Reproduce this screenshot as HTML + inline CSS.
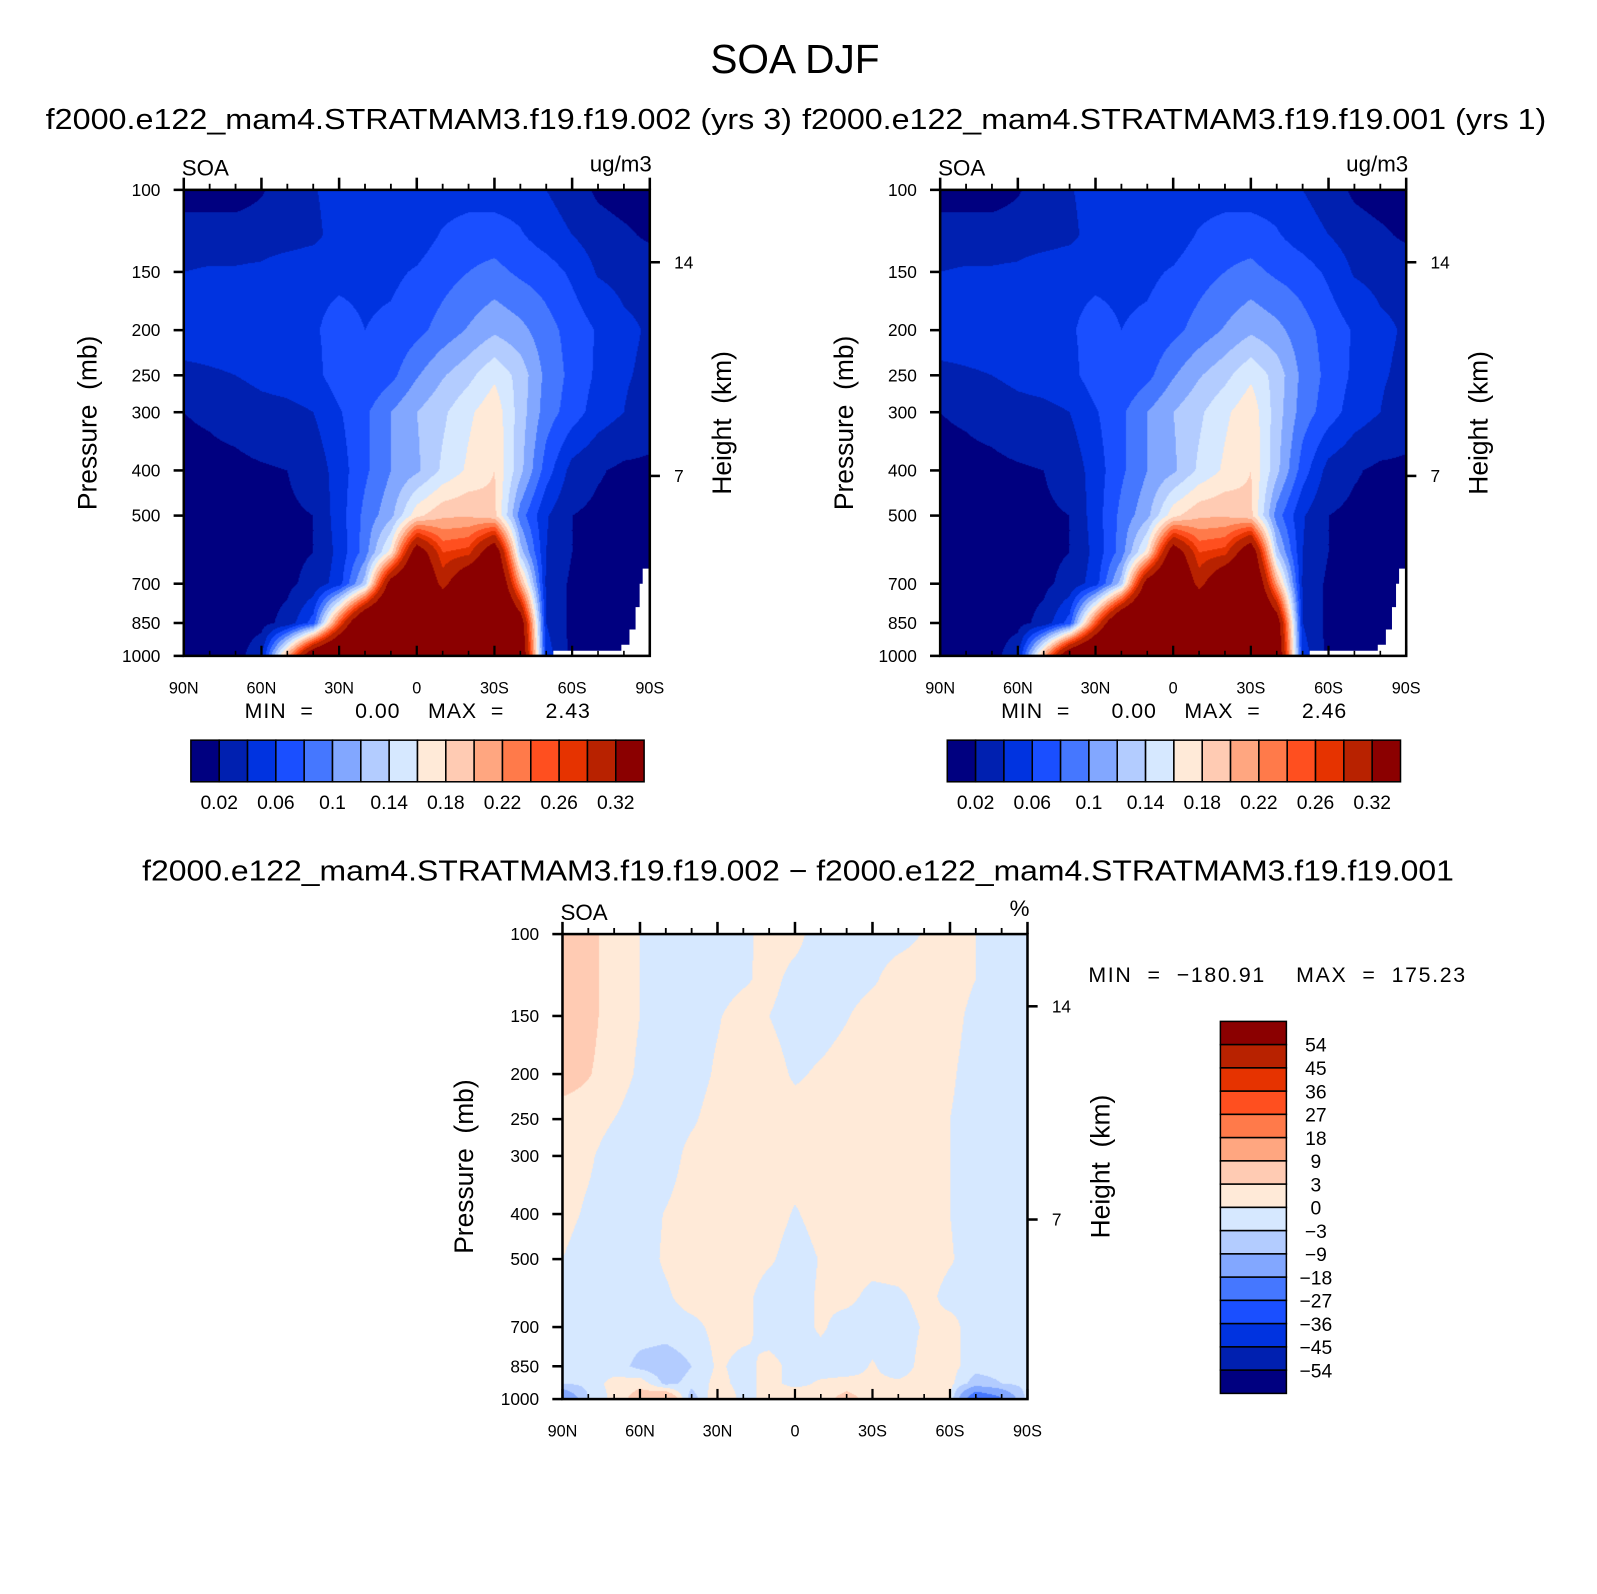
<!DOCTYPE html>
<html><head><meta charset="utf-8"><title>SOA DJF</title>
<style>
html,body{margin:0;padding:0;background:#fff;width:1597px;height:1594px;overflow:hidden}
#wrap{position:absolute;left:0;top:0;width:1573px;height:1570px;transform:scale(1.0153);transform-origin:0 0}
canvas{position:absolute}
svg{position:absolute;left:0;top:0}
text{font-family:"Liberation Sans",sans-serif;fill:#000;white-space:pre}
</style></head>
<body>
<div id="wrap">
<canvas id="c1" width="459" height="459" style="left:181px;top:187px"></canvas>
<canvas id="c2" width="459" height="459" style="left:926px;top:187px"></canvas>
<canvas id="c3" width="458" height="458" style="left:554px;top:920px"></canvas>
<svg id="s" width="1573" height="1570" viewBox="0 0 1573 1570">
<text x="783" y="72" font-size="40" text-anchor="middle">SOA DJF</text>
<text x="45" y="127" font-size="28" textLength="735" lengthAdjust="spacingAndGlyphs">f2000.e122_mam4.STRATMAM3.f19.f19.002 (yrs 3)</text>
<text x="790" y="127" font-size="28" textLength="733" lengthAdjust="spacingAndGlyphs">f2000.e122_mam4.STRATMAM3.f19.f19.001 (yrs 1)</text>
<text x="140" y="867" font-size="28" textLength="1292" lengthAdjust="spacingAndGlyphs">f2000.e122_mam4.STRATMAM3.f19.f19.002 − f2000.e122_mam4.STRATMAM3.f19.f19.001</text>
</svg>
</div>
<script>
const latCats = [90,80,70,60,50,40,30,20,10,0,-10,-20,-30,-40,-50,-60,-70,-80,-90];
const presLevels = [100,125,150,200,250,300,400,500,600,700,850,1000];
const soaCase1 = [
[0.01,0.01,0.01,0.018,0.03,0.038,0.05,0.05,0.05,0.05,0.05,0.05,0.05,0.05,0.04,0.03,0.016,0.01,0.01],
[0.03,0.03,0.03,0.03,0.03,0.034,0.05,0.05,0.05,0.05,0.062,0.07,0.07,0.062,0.05,0.04,0.03,0.024,0.016],
[0.04,0.042,0.042,0.044,0.052,0.056,0.056,0.056,0.056,0.062,0.072,0.08,0.086,0.076,0.07,0.056,0.038,0.034,0.034],
[0.056,0.056,0.056,0.056,0.056,0.058,0.066,0.06,0.064,0.074,0.088,0.102,0.116,0.106,0.088,0.072,0.058,0.044,0.038],
[0.032,0.036,0.04,0.046,0.05,0.054,0.07,0.062,0.074,0.098,0.118,0.134,0.156,0.132,0.094,0.074,0.056,0.042,0.036],
[0.02,0.022,0.026,0.032,0.034,0.04,0.058,0.076,0.1,0.12,0.136,0.156,0.174,0.13,0.09,0.07,0.05,0.04,0.03],
[0.016,0.016,0.016,0.018,0.02,0.026,0.05,0.076,0.1,0.116,0.144,0.164,0.18,0.126,0.07,0.032,0.022,0.016,0.016],
[0.014,0.014,0.014,0.016,0.018,0.02,0.05,0.086,0.114,0.174,0.196,0.198,0.186,0.09,0.042,0.02,0.016,0.014,0.014],
[0.012,0.012,0.014,0.014,0.016,0.02,0.046,0.09,0.17,0.36,0.26,0.27,0.37,0.13,0.04,0.02,0.016,0.014,0.014],
[0.012,0.012,0.012,0.014,0.016,0.026,0.05,0.13,0.35,0.42,0.30,0.39,0.42,0.21,0.036,0.016,0.014,0.012,0.012],
[0.012,0.012,0.012,0.014,0.026,0.07,0.25,0.42,0.45,0.48,0.45,0.45,0.45,0.36,0.04,0.014,0.012,0.012,0.012],
[0.012,0.012,0.012,0.034,0.21,0.39,0.45,0.48,0.48,0.48,0.48,0.48,0.48,0.39,0.05,0.014,0.012,0.012,0.012]
];
const soaCase2 = [
[0.01,0.01,0.01,0.018,0.03,0.038,0.05,0.05,0.05,0.05,0.05,0.05,0.05,0.05,0.04,0.03,0.016,0.01,0.01],
[0.03,0.03,0.03,0.03,0.03,0.034,0.05,0.05,0.05,0.05,0.062,0.07,0.07,0.062,0.05,0.04,0.03,0.024,0.016],
[0.04,0.042,0.042,0.044,0.052,0.056,0.056,0.056,0.056,0.062,0.072,0.08,0.086,0.076,0.07,0.056,0.038,0.034,0.034],
[0.056,0.056,0.056,0.056,0.056,0.058,0.066,0.06,0.064,0.074,0.088,0.102,0.116,0.106,0.088,0.072,0.058,0.044,0.038],
[0.032,0.036,0.04,0.046,0.05,0.054,0.07,0.062,0.074,0.098,0.118,0.134,0.156,0.132,0.094,0.074,0.056,0.042,0.036],
[0.02,0.022,0.026,0.032,0.034,0.04,0.058,0.076,0.1,0.12,0.136,0.156,0.174,0.13,0.09,0.07,0.05,0.04,0.03],
[0.016,0.016,0.016,0.018,0.02,0.026,0.05,0.076,0.1,0.116,0.144,0.164,0.18,0.126,0.07,0.032,0.022,0.016,0.016],
[0.014,0.014,0.014,0.016,0.018,0.02,0.05,0.086,0.114,0.174,0.196,0.198,0.186,0.09,0.042,0.02,0.016,0.014,0.014],
[0.012,0.012,0.014,0.014,0.016,0.02,0.046,0.09,0.17,0.36,0.26,0.27,0.37,0.13,0.04,0.02,0.016,0.014,0.014],
[0.012,0.012,0.012,0.014,0.016,0.026,0.05,0.13,0.35,0.42,0.30,0.39,0.42,0.21,0.036,0.016,0.014,0.012,0.012],
[0.012,0.012,0.012,0.014,0.026,0.07,0.25,0.42,0.45,0.48,0.45,0.45,0.45,0.36,0.04,0.014,0.012,0.012,0.012],
[0.012,0.012,0.012,0.034,0.21,0.39,0.45,0.48,0.48,0.48,0.48,0.48,0.48,0.39,0.05,0.014,0.012,0.012,0.012]
];
const diffPres = [100,125,150,200,250,300,400,500,600,700,850,925,1000];
const diffField = [
[5,4,1.5,0,-1.5,-1.5,-1.5,-1,1.5,1,-1.5,-1.2,-1.5,-1.2,0.2,1.5,0,-1.5,-1.5],
[5,4,1.5,0,-1.5,-1.5,-1.5,-0.5,1,-1,-1.5,-1.5,-0.5,1.5,1.5,1.5,0,-1.5,-1.5],
[5,4,1.5,0,-1.5,-1.5,-0.3,1.5,0,-1.5,-1.5,-0.2,1.5,1.5,1.5,1.2,-1,-1.5,-1.5],
[4.5,3.2,1.5,-0.5,-1.5,-1.5,0.5,1.5,1.5,-0.5,0.5,1.5,1.5,1.5,1.5,0.5,-1.5,-1.5,-1.5],
[1.5,1.5,0,-1.5,-1.5,-0.5,1.5,1.5,1.5,1.5,1.5,1.5,1.5,1.5,1.5,0,-1.5,-1.5,-1.5],
[1.5,0.5,-1.5,-1.5,-1.5,1,1.5,1.5,1.5,1.5,1.5,1.5,1.5,1.5,1.5,0,-1.5,-1.5,-1.5],
[1,-0.5,-1.5,-1.5,0.2,1.5,1.5,1.5,1.5,-0.3,1.2,1.5,1.5,1.5,1.5,0,-1.5,-1.5,-1.5],
[0,-1.5,-1.5,-1.5,0.5,1.5,1.5,1.5,0.5,-1.5,0.2,1.5,1.5,1.5,1.5,0.3,-1.5,-1.5,-1.5],
[-1.5,-1.5,-1.5,-1.5,-0.5,1.5,1,1,-1.5,-1.5,0.5,1,-1,-0.5,1,-1,-0.5,-1.5,-1.5],
[-1.5,-1.5,-1.5,-1.5,-1.5,-1,1,1,-1.5,-1.5,0.5,-1.5,-1.5,-1.5,0.3,1,-1.5,-1.5,-1.5],
[-1.5,-1.5,-1.5,-4,-5,-3,0.5,-1,1,-1,-1.5,-1.5,0.3,-1.5,1,1,-1.5,-1.5,-1.5],
[-3,-1.5,1,2,-4,-2,1,-1,1,-1,0.5,1,0.5,0.5,1,1,-5,-3,-1.5],
[-20,-3,1,5,10,-5,3,-1,1,3,1,5,1,3,1,1,-30,-20,-1]
];
const soaLevels = [0.02,0.04,0.06,0.08,0.1,0.12,0.14,0.16,0.18,0.2,0.22,0.24,0.26,0.28,0.32];
const soaBarLabels = ['0.02','0.06','0.1','0.14','0.18','0.22','0.26','0.32'];
const diffLevels = [-54,-45,-36,-27,-18,-9,-3,0,3,9,18,27,36,45,54];
const diffBarLabels = ['−54','−45','−36','−27','−18','−9','−3','0','3','9','18','27','36','45','54'];
const palette = ['#000080','#0020b0','#0033e0','#1a4fff','#4577ff','#82a7ff','#b3ccff','#d6e8ff','#ffead8','#ffcbb3','#ffa680','#ff7a4a','#ff4f1f','#e63300','#b82200','#8b0000'];
const pressureTicks = [100,150,200,250,300,400,500,700,850,1000];
const latTickLabels = ['90N','60N','30N','0','30S','60S','90S'];
const latTickValues = [90,60,30,0,-30,-60,-90];
const heightTickLabels = ['14','7'];
const heightTickPres = [143,411];

const NS='http://www.w3.org/2000/svg';
const svg=document.getElementById('s');
function mk(tag,attrs,txt){const e=document.createElementNS(NS,tag);for(const k in attrs)e.setAttribute(k,attrs[k]);if(txt!==undefined)e.textContent=txt;svg.appendChild(e);return e;}
function hexToRgb(h){return [parseInt(h.substr(1,2),16),parseInt(h.substr(3,2),16),parseInt(h.substr(5,2),16)];}
const palRgb=palette.map(hexToRgb);

function drawField(id,lats,pres,field,levels){
  const cv=document.getElementById(id);const W=cv.width,H=cv.height;
  const ctx=cv.getContext('2d');const img=ctx.createImageData(W,H);
  const lp=pres.map(p=>Math.log10(p));const nc=lats.length;
  for(let py=0;py<H;py++){
    const l=2+(py+0.5)/H;
    let r=0;while(r<lp.length-2&&l>lp[r+1])r++;
    const t=Math.min(1,Math.max(0,(l-lp[r])/(lp[r+1]-lp[r])));
    for(let px=0;px<W;px++){
      const xf=(px+0.5)/W*(nc-1);let c=Math.min(nc-2,Math.floor(xf));const u=xf-c;
      const v=(1-t)*((1-u)*field[r][c]+u*field[r][c+1])+t*((1-u)*field[r+1][c]+u*field[r+1][c+1]);
      let k=0;while(k<levels.length&&v>=levels[k])k++;
      const col=palRgb[k];const i=(py*W+px)*4;
      img.data[i]=col[0];img.data[i+1]=col[1];img.data[i+2]=col[2];img.data[i+3]=255;
    }
  }
  ctx.putImageData(img,0,0);
}
drawField('c1',latCats,presLevels,soaCase1,soaLevels);
drawField('c2',latCats,presLevels,soaCase2,soaLevels);
drawField('c3',latCats,diffPres,diffField,diffLevels);

function axes(ox,oy,W,H,leftLab,rightLab,unit,pfx){
  const yOf=p=>oy+H*Math.log10(p/100);
  const xOf=lat=>ox+W*(90-lat)/180;
  if(pfx!=='diff'){
    const m=mk('polygon',{points:[[ox+W-7,oy+H-86],[ox+W,oy+H-86],[ox+W,oy+H],[ox+W-95,oy+H],[ox+W-95,oy+H-5],[ox+W-28,oy+H-5],[ox+W-28,oy+H-11],[ox+W-20,oy+H-11],[ox+W-20,oy+H-26],[ox+W-14,oy+H-26],[ox+W-14,oy+H-48],[ox+W-10,oy+H-48],[ox+W-10,oy+H-71],[ox+W-7,oy+H-71]].map(a=>a.join(',')).join(' '),fill:'#fff'});
    
    
  }
  const f=mk('rect',{x:ox,y:oy,width:W,height:H,fill:'none',stroke:'#000','stroke-width':2.5});
  
  
  for(let lat=90;lat>=-90;lat-=10){
    const major=lat%30===0;const x=xOf(lat);
    const t1=mk('line',{x1:x,x2:x,y1:oy,y2:oy-(major?12:6),stroke:'#000','stroke-width':major?2.5:1.8});
    
    
    const t2=mk('line',{x1:x,x2:x,y1:oy+H,y2:oy+H-(major?10:5),stroke:'#000','stroke-width':major?2.2:1.6});
    
    
  }
  latTickValues.forEach((lat,i)=>{
    const t=mk('text',{x:xOf(lat),y:oy+H+37,'font-size':16,'text-anchor':'middle'},latTickLabels[i]);
    
    
  });
  pressureTicks.forEach(p=>{
    const y=yOf(p);
    const l=mk('line',{x1:ox,x2:ox-10,y1:y,y2:y,stroke:'#000','stroke-width':2.5});
    
    
    const t=mk('text',{x:ox-23,y:y+6,'font-size':17,'text-anchor':'end'},String(p));
    
    
  });
  heightTickPres.forEach((p,i)=>{
    const y=yOf(p);
    const l=mk('line',{x1:ox+W,x2:ox+W+10,y1:y,y2:y,stroke:'#000','stroke-width':2.5});
    
    
    const t=mk('text',{x:ox+W+24,y:y+6,'font-size':17},heightTickLabels[i]);
    
    
  });
  const a=mk('text',{x:leftLab,y:oy+H/2,'font-size':26,'text-anchor':'middle',transform:`rotate(-90 ${leftLab} ${oy+H/2})`},'Pressure  (mb)');
  
  
  const b=mk('text',{x:rightLab,y:oy+H/2,'font-size':26,'text-anchor':'middle',transform:`rotate(-90 ${rightLab} ${oy+H/2})`},'Height  (km)');
  
  
  const s=mk('text',{x:ox-2,y:oy-14,'font-size':22},'SOA');
  
  
  const u=mk('text',{x:ox+W+2,y:oy-18,'font-size':22,'text-anchor':'end'},unit);
  
  
}
axes(181,187,459,459,95,720,'ug/m3','case1');
axes(926,187,459,459,840,1465,'ug/m3','case2');
axes(554,920,458,458,466,1093,'%','diff');

function hbar(ox,oy,pfx){
  const bw=27.9,bh=41;
  palette.forEach((c,i)=>{
    const r=mk('rect',{x:ox+i*bw,y:oy,width:bw,height:bh,fill:c,stroke:'#000','stroke-width':1.5});
    
    
  });
  soaBarLabels.forEach((lab,i)=>{
    const t=mk('text',{x:ox+bw*(2*i+1),y:oy+68,'font-size':19,'text-anchor':'middle'},lab);
    
    
  });
}
hbar(188,729,'case1');
hbar(933,729,'case2');

const mm1=mk('text',{x:241,y:707,'font-size':21,textLength:340,lengthAdjust:'spacing'},'MIN  =      0.00    MAX  =      2.43');


const mm2=mk('text',{x:986,y:707,'font-size':21,textLength:340,lengthAdjust:'spacing'},'MIN  =      0.00    MAX  =      2.46');


const mm3=mk('text',{x:1072,y:967,'font-size':21,textLength:371,lengthAdjust:'spacing'},'MIN  =  −180.91    MAX  =  175.23');



(function vbar(){
  const ox=1202,top=1006,bw=65,bh=22.9;
  for(let i=0;i<16;i++){
    const k=15-i;
    const r=mk('rect',{x:ox,y:top+i*bh,width:bw,height:bh,fill:palette[k],stroke:'#000','stroke-width':1.5});
    
    
  }
  diffBarLabels.forEach((lab,j)=>{
    const i=14-j;
    const t=mk('text',{x:1296,y:top+(i+1)*bh+7,'font-size':19,'text-anchor':'middle'},lab);
    
    
  });
})();
</script>
</body></html>
